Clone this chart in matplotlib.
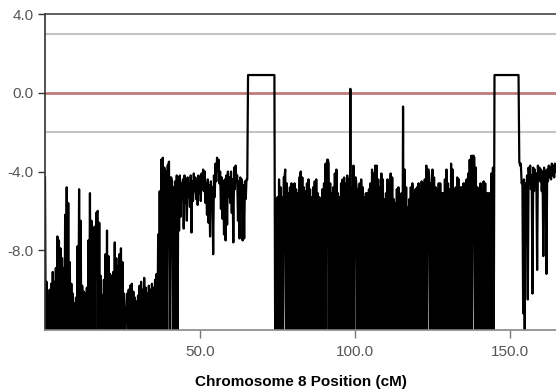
import numpy as np
import matplotlib
matplotlib.use("Agg")
import matplotlib.pyplot as plt

plt.rcParams["font.family"] = "Liberation Sans"
plt.rcParams["axes.unicode_minus"] = False

# scan grid step (cM); each grid point has a local max (peak) and local min (dip)
step_cm = 0.5

# ---- 0.0 - 42.5 cM : low region, trace hits the floor between peaks ----
seg_a_peak = [
    -4.3, -9.6, -10.3, -10.0, -9.7, -9.1, -9.6, -8.9, -7.3, -7.5,
    -7.9, -8.4, -8.9, -6.2, -4.8, -5.6, -8.6, -9.7, -10.2, -10.7,
    -10.4, -7.8, -4.9, -6.5, -9.8, -10.1, -10.2, -9.9, -7.5, -5.1,
    -6.5, -6.9, -6.8, -6.1, -6.0, -6.6, -9.3, -10.3, -9.5, -8.2,
    -7.0, -8.3, -9.2, -9.3, -9.1, -7.6, -8.4, -8.8, -8.2, -7.9,
    -8.6, -10.2, -11.0, -10.2, -10.0, -9.8, -9.7, -10.1, -10.4, -10.6,
    -10.3, -9.8, -9.6, -10.0, -9.4, -9.9, -10.2, -9.8, -10.0, -9.7,
    -9.9, -9.5, -9.2, -7.2, -5.0, -3.4, -3.3, -3.8, -4.0, -3.7,
    -3.5, -4.3, -4.5, -4.8, -4.5, -4.2,
]
seg_a_dip = [
    -13, -13, -13, -13, -13, -13, -13, -13, -13, -13,
    -13, -13, -13, -13, -13, -13, -13, -13, -13, -13,
    -13, -13, -13, -13, -13, -13, -13, -13, -13, -13,
    -13, -13, -13, -6.1, -13, -13, -13, -13, -13, -13,
    -13, -13, -13, -13, -13, -13, -13, -13, -13, -13,
    -13, -13, -11.0, -13, -13, -13, -13, -13, -13, -13,
    -13, -13, -13, -13, -13, -13, -13, -13, -13, -13,
    -13, -13, -13, -13, -13, -13, -13, -13, -13, -3.7,
    -13, -4.3, -13, -13, -13, -13,
]

# ---- 43.0 - 65.0 cM : noisy band around -4.5 ----
seg_b_peak = [
    -4.3, -4.2, -4.6, -4.4, -4.2, -4.5, -4.3, -4.6, -4.2, -4.5,
    -4.1, -4.3, -4.5, -4.2, -4.4, -4.1, -3.9, -4.0, -4.6, -4.4,
    -4.7, -4.5, -4.8, -4.2, -3.6, -3.3, -3.4, -4.0, -4.3, -4.5,
    -4.4, -4.2, -4.0, -4.3, -4.0, -4.4, -3.8, -3.7, -4.2, -4.5,
    -4.3, -4.4, -4.7, -4.5, -4.4,
]
seg_b_dip = [
    -7.0, -6.3, -5.4, -6.9, -5.6, -6.5, -5.3, -5.8, -7.1, -5.5,
    -5.0, -5.4, -5.7, -5.1, -5.5, -4.9, -5.0, -5.6, -6.2, -6.6,
    -7.3, -5.8, -8.2, -5.3, -4.5, -4.0, -4.6, -5.9, -6.4, -7.2,
    -7.5, -6.7, -5.3, -5.6, -6.1, -7.6, -4.9, -4.5, -6.5, -7.4,
    -6.0, -7.5, -7.4, -5.4, -4.4,
]

# ---- 65.5 - 74.0 cM : first plateau ----
box1_peak = [0.9, 0.9, 0.9, 0.9, 0.9, 0.9, 0.9, 0.9, 0.9,
             0.9, 0.9, 0.9, 0.9, 0.9, 0.9, 0.9, 0.9, 0.9]
box1_dip = [0.9, 0.9, 0.9, 0.9, 0.9, 0.9, 0.9, 0.9, 0.9,
            0.9, 0.9, 0.9, 0.9, 0.9, 0.9, 0.9, 0.9, -13]

# ---- 74.5 - 144.5 cM : dense block ----
seg_c_peak = [
    -5.4, -5.3, -4.4, -4.8, -5.3, -4.3, -3.9, -4.6, -5.1, -4.8,
    -4.6, -4.8, -4.6, -4.9, -5.1, -4.3, -4.0, -4.3, -4.8, -5.0,
    -4.6, -4.4, -4.9, -5.3, -4.8, -4.5, -4.4, -5.1, -5.3, -5.4,
    -4.9, -4.6, -3.6, -3.4, -3.6, -4.6, -5.1, -4.8, -4.1, -3.9,
    -5.1, -5.3, -4.6, -4.4, -4.3, -4.6, -4.2, -4.4, 0.2, -4.8,
    -3.7, -4.3, -4.8, -4.9, -4.6, -4.4, -4.8, -5.3, -5.1, -5.1,
    -4.9, -4.6, -3.9, -4.1, -3.7, -3.7, -4.4, -4.8, -4.1, -4.4,
    -5.4, -5.1, -4.4, -4.6, -4.1, -4.3, -5.4, -5.6, -4.9, -4.8,
    -6.0, -5.1, -0.7, -3.9, -4.8, -5.8, -5.4, -4.8, -4.6, -5.1,
    -4.9, -4.8, -4.6, -4.9, -4.5, -4.6, -4.4, -3.7, -3.9, -4.4,
    -4.6, -3.9, -4.3, -4.8, -4.9, -4.6, -4.6, -5.1, -5.1, -4.4,
    -3.9, -4.6, -4.9, -3.6, -3.9, -4.9, -4.8, -4.3, -4.4, -4.8,
    -4.8, -4.6, -4.6, -4.4, -4.1, -3.4, -3.2, -3.2, -3.3, -3.8,
    -4.8, -4.9, -4.6, -4.9, -4.5, -4.6, -5.1, -5.1, -5.1, -4.1,
    -3.8,
]
seg_c_dip = [
    -13, -13, -13, -13, -13, -4.3, -13, -13, -13, -13,
    -13, -13, -13, -13, -13, -4.3, -13, -13, -13, -13,
    -13, -13, -13, -13, -13, -13, -13, -13, -13, -13,
    -13, -13, -13, -3.4, -13, -13, -13, -13, -13, -13,
    -13, -13, -13, -13, -13, -13, -13, -13, -13, -13,
    -13, -4.3, -13, -13, -13, -13, -13, -13, -13, -13,
    -13, -13, -13, -13, -13, -13, -13, -13, -13, -13,
    -13, -13, -13, -13, -13, -13, -13, -13, -13, -13,
    -13, -13, -13, -13, -13, -13, -13, -13, -13, -13,
    -13, -13, -13, -13, -13, -13, -13, -13, -3.9, -13,
    -13, -13, -13, -13, -13, -13, -13, -13, -13, -13,
    -13, -13, -13, -13, -13, -13, -13, -13, -13, -13,
    -13, -13, -13, -13, -13, -13, -13, -3.2, -13, -13,
    -13, -13, -13, -13, -13, -13, -13, -13, -13, -13,
    -13,
]

# ---- 145.0 - 152.5 cM : second plateau ----
box2_peak = [0.9, 0.9, 0.9, 0.9, 0.9, 0.9, 0.9, 0.9,
             0.9, 0.9, 0.9, 0.9, 0.9, 0.9, 0.9, 0.9]
box2_dip = [0.9, 0.9, 0.9, 0.9, 0.9, 0.9, 0.9, 0.9,
            0.9, 0.9, 0.9, 0.9, 0.9, 0.9, 0.9, 0.9]

# ---- 153.0 - 164.5 cM : tail ----
seg_d_peak = [
    -3.5, -3.6, -4.5, -4.4, -4.6, -4.2, -3.8, -3.7, -4.2, -3.8,
    -3.9, -4.1, -3.7, -3.8, -3.9, -4.0, -3.8, -4.0, -3.9, -3.7,
    -3.8, -3.6, -3.7, -3.6,
]
seg_d_dip = [
    -3.7, -4.6, -11.2, -13, -6.0, -10.5, -4.6, -4.9, -10.2, -5.0,
    -4.7, -9.0, -4.4, -4.5, -5.0, -8.3, -4.6, -9.2, -4.5, -4.3,
    -4.4, -4.2, -4.3, -4.0,
]

ref_levels = [3.0, -2.0]
zero_level = 0.0
y_ticks = [4.0, 0.0, -4.0, -8.0]
x_ticks = [50.0, 100.0, 150.0]

peak = np.array(seg_a_peak + seg_b_peak + box1_peak + seg_c_peak + box2_peak + seg_d_peak)
dip = np.array(seg_a_dip + seg_b_dip + box1_dip + seg_c_dip + box2_dip + seg_d_dip)
pos = np.arange(len(peak)) * step_cm

xs = np.column_stack([pos, pos + step_cm / 2]).ravel()
ys = np.column_stack([peak, dip]).ravel()

fig = plt.figure(figsize=(5.56, 3.92), dpi=100)
ax = fig.add_axes([45 / 556, 62 / 392, 511 / 556, 316 / 392])

for lvl in ref_levels:
    ax.axhline(lvl, color="#c4c4c4", lw=1.5, zorder=1)
ax.axhline(zero_level, color="#c07a7a", lw=2, zorder=1)

ax.plot(xs, ys, color="black", lw=1.6, zorder=2)

ax.set_xlim(0, 511 / 3.1)
ax.set_ylim(-12.05, 4.0)

ax.set_yticks(y_ticks)
ax.set_yticklabels([f"{v:.1f}" for v in y_ticks])
ax.set_xticks(x_ticks)
ax.set_xticklabels([f"{v:.1f}" for v in x_ticks])
ax.tick_params(axis="y", length=5, width=1, color="#333333", labelcolor="#555555",
               labelsize=11, pad=3)
ax.tick_params(axis="x", length=6, width=1, color="#777777", labelcolor="#555555",
               labelsize=11, pad=5)

ax.spines["right"].set_visible(False)
ax.spines["top"].set_color("#444444")
ax.spines["left"].set_color("#333333")
ax.spines["bottom"].set_color("#888888")
for s in ("top", "left", "bottom"):
    ax.spines[s].set_linewidth(1.2)

ax.set_xlabel("Chromosome 8 Position (cM)", fontsize=11, fontweight="bold",
              color="black", labelpad=11)

fig.savefig("out.png", dpi=100)
